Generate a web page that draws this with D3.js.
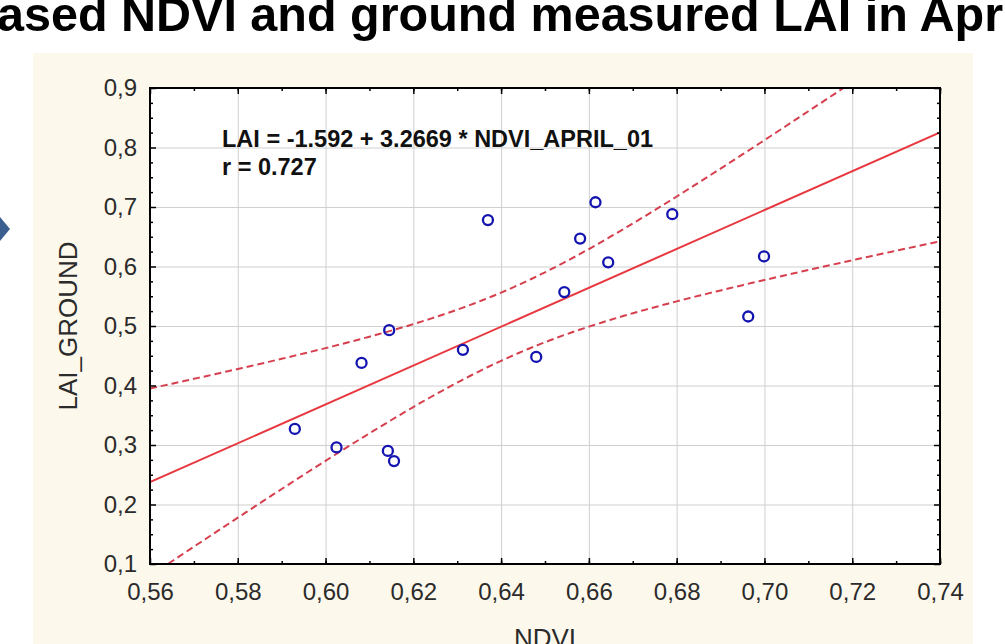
<!DOCTYPE html>
<html lang="en">
<head>
<meta charset="UTF-8">
<title>NDVI vs LAI_GROUND</title>
<script src="https://d3js.org/d3.v7.min.js"></script>
<style>
body { margin: 0; background: #fff; }
svg { display: block; font-family: "Liberation Sans", Arial, sans-serif; }
.tick text { fill: #2b2b2b; font-size: 24px; }
.grid line { stroke: #cfcfcf; stroke-width: 1; }
.grid .domain { display: none; }
.ticks .domain { display: none; }
.ticks line { stroke: #000; stroke-width: 1.5; }
</style>
</head>
<body>
<svg id="chart" width="1005" height="644"></svg>
<script>
// scatter values
const ndvi = [0.593, 0.6025, 0.6082, 0.6145, 0.6142, 0.6156, 0.6313, 0.637,
              0.648, 0.6544, 0.658, 0.6615, 0.6644, 0.679, 0.6963, 0.6999];
const laiGround = [0.327, 0.296, 0.438, 0.493, 0.290, 0.273, 0.460, 0.678,
                   0.448, 0.557, 0.647, 0.708, 0.607, 0.688, 0.516, 0.617];

// regression as printed on the chart
const intercept = -1.592;
const slope = 3.2669;
const rText = "0.727";
const tCrit = 2.145; // t(0.975, n-2) for the 95% band

const xTicks = [0.56, 0.58, 0.60, 0.62, 0.64, 0.66, 0.68, 0.70, 0.72, 0.74];
const yTicks = [0.1, 0.2, 0.3, 0.4, 0.5, 0.6, 0.7, 0.8, 0.9];
const xMinor = d3.range(0.565, 0.74, 0.01).map(v => +(v + 0.005).toFixed(3));
const yMinor = d3.range(0.125, 0.9, 0.025).filter((v, i) => (i + 1) % 4 !== 0);

const svg = d3.select("#chart");

// title (cut by the page edge in the original)
svg.append("text")
    .attr("x", -3)
    .attr("y", 31)
    .attr("font-size", 48.5)
    .attr("font-weight", "bold")
    .attr("fill", "#000")
    .text("ased NDVI and ground measured LAI in April");

// small arrow on the left
svg.append("polygon")
    .attr("points", "0,217 10,229 0,241")
    .attr("fill", "#3b5f8f");

// cream panel
svg.append("rect")
    .attr("x", 33).attr("y", 53)
    .attr("width", 940).attr("height", 600)
    .attr("fill", "#fdf8ec");

const m = { left: 150, top: 88, right: 940, bottom: 564 };
const width = m.right - m.left, height = m.bottom - m.top;

const x = d3.scaleLinear().domain([0.56, 0.74]).range([0, width]);
const y = d3.scaleLinear().domain([0.1, 0.9]).range([height, 0]);

const g = svg.append("g").attr("transform", `translate(${m.left},${m.top})`);

g.append("rect").attr("width", width).attr("height", height).attr("fill", "#fff");

g.append("clipPath").attr("id", "plotClip")
    .append("rect").attr("width", width).attr("height", height);

// grid
g.append("g").attr("class", "grid")
    .call(d3.axisBottom(x).tickValues(xTicks).tickSize(height).tickFormat(""));
g.append("g").attr("class", "grid")
    .call(d3.axisLeft(y).tickValues(yTicks).tickSize(-width).tickFormat(""));

// confidence band from the scatter
const n = ndvi.length;
const xbar = d3.mean(ndvi);
const sxx = d3.sum(ndvi, v => (v - xbar) ** 2);
const sse = d3.sum(ndvi, (v, i) => (laiGround[i] - (intercept + slope * v)) ** 2);
const se = Math.sqrt(sse / (n - 2));
const fit = v => intercept + slope * v;
const half = v => tCrit * se * Math.sqrt(1 / n + (v - xbar) ** 2 / sxx);

const xs = x.ticks(200);
const plot = g.append("g").attr("clip-path", "url(#plotClip)");

const line = d3.line().x(d => x(d[0])).y(d => y(d[1]));

plot.append("path")
    .datum(xs.map(v => [v, fit(v) + half(v)]))
    .attr("d", line)
    .attr("fill", "none").attr("stroke", "#d6404e")
    .attr("stroke-width", 2).attr("stroke-dasharray", "7,4");
plot.append("path")
    .datum(xs.map(v => [v, fit(v) - half(v)]))
    .attr("d", line)
    .attr("fill", "none").attr("stroke", "#d6404e")
    .attr("stroke-width", 2).attr("stroke-dasharray", "7,4");
plot.append("path")
    .datum(x.domain().map(v => [v, fit(v)]))
    .attr("d", line)
    .attr("fill", "none").attr("stroke", "#e8383f")
    .attr("stroke-width", 2);

// points
g.selectAll(".pt")
    .data(ndvi)
    .enter()
    .append("circle")
    .attr("class", "pt")
    .attr("cx", d => x(d))
    .attr("cy", (d, i) => y(laiGround[i]))
    .attr("r", 5)
    .attr("fill", "none")
    .attr("stroke", "#1414b0")
    .attr("stroke-width", 2.3);

// equation
const eq = g.append("text")
    .attr("font-size", 23.5)
    .attr("font-weight", "bold")
    .attr("fill", "#111");
eq.append("tspan").attr("x", 222 - m.left).attr("y", 147 - m.top)
    .text(`LAI = ${intercept} + ${slope} * NDVI_APRIL_01`);
eq.append("tspan").attr("x", 222 - m.left).attr("y", 175 - m.top)
    .text(`r = ${rText}`);

// ticks (inward)
const fmtX = v => d3.format(".2f")(v).replace(".", ",");
const fmtY = v => d3.format(".1f")(v).replace(".", ",");

g.append("g").attr("class", "ticks").attr("transform", `translate(0,${height})`)
    .call(d3.axisBottom(x).tickValues(xTicks).tickSize(-6).tickPadding(19).tickFormat(fmtX));
g.append("g").attr("class", "ticks").attr("transform", `translate(0,${height})`)
    .call(d3.axisBottom(x).tickValues(xMinor).tickSize(-3).tickFormat(""));
g.append("g").attr("class", "ticks")
    .call(d3.axisTop(x).tickValues(xTicks).tickSize(-6).tickFormat(""));
g.append("g").attr("class", "ticks")
    .call(d3.axisTop(x).tickValues(xMinor).tickSize(-3).tickFormat(""));

g.append("g").attr("class", "ticks")
    .call(d3.axisLeft(y).tickValues(yTicks).tickSize(-6).tickPadding(13).tickFormat(fmtY));
g.append("g").attr("class", "ticks")
    .call(d3.axisLeft(y).tickValues(yMinor).tickSize(-3).tickFormat(""));
g.append("g").attr("class", "ticks").attr("transform", `translate(${width},0)`)
    .call(d3.axisRight(y).tickValues(yTicks).tickSize(-6).tickFormat(""));
g.append("g").attr("class", "ticks").attr("transform", `translate(${width},0)`)
    .call(d3.axisRight(y).tickValues(yMinor).tickSize(-3).tickFormat(""));

// frame
g.append("rect").attr("width", width).attr("height", height)
    .attr("fill", "none").attr("stroke", "#000").attr("stroke-width", 2);

// axis titles
svg.append("text")
    .attr("transform", `translate(77,${m.top + height / 2}) rotate(-90)`)
    .attr("text-anchor", "middle")
    .attr("font-size", 26)
    .attr("fill", "#2b2b2b")
    .text("LAI_GROUND");
svg.append("text")
    .attr("x", m.left + width / 2)
    .attr("y", 647)
    .attr("text-anchor", "middle")
    .attr("font-size", 26)
    .attr("fill", "#2b2b2b")
    .text("NDVI");
</script>
</body>
</html>
